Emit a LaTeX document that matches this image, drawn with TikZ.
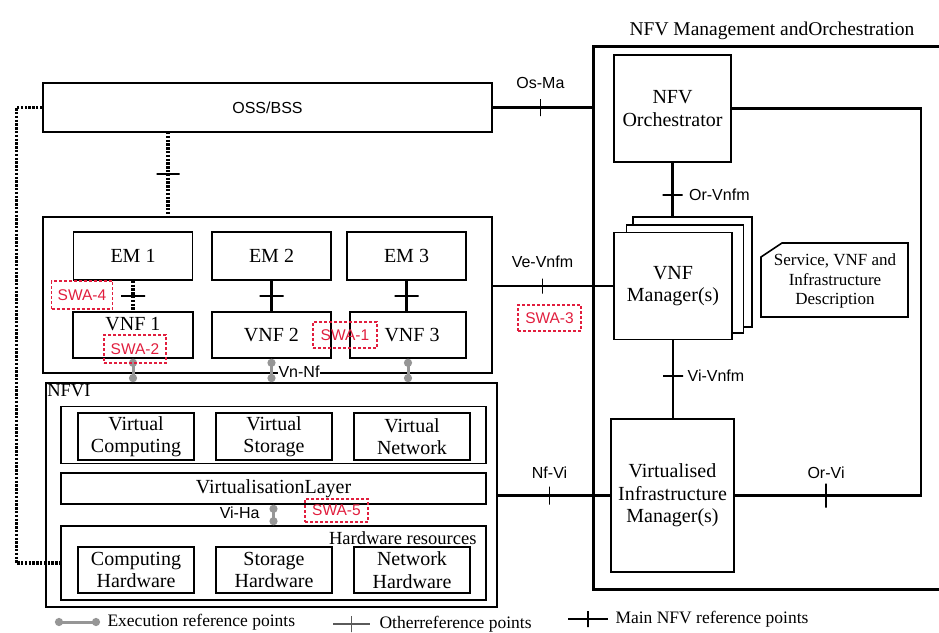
\documentclass[tikz,border=0pt]{standalone}
\usepackage{fontspec}
\setmainfont{Liberation Serif}
\setsansfont{Liberation Sans}
\usetikzlibrary{arrows.meta,positioning}
\definecolor{sw}{RGB}{225,30,62}
\definecolor{eg}{RGB}{150,150,150}

\begin{document}
\begin{tikzpicture}[x=1pt,y=-1pt,>=Latex,
  wh/.style 2 args={minimum width=#1pt,minimum height=#2pt},
  bx/.style={draw,line width=1.6pt,inner sep=1pt,align=center,font=\fontsize{20}{22.5}\selectfont},
  grp/.style={draw,line width=2.6pt,inner sep=0pt},
  sf/.style={font=\sffamily\fontsize{16}{18}\selectfont},
  tx/.style={font=\fontsize{18.5}{20}\selectfont},
  lg/.style={font=\fontsize{17.5}{20}\selectfont},
  mn/.style={line width=2.6pt},
  ot/.style={line width=3.2pt,dash pattern=on 2.4pt off 1.4pt},
  tv/.style={draw,solid,line width=1.6pt,inner sep=0pt,outer sep=0pt,minimum width=0pt,minimum height=#1pt},
  tv/.default=18,
  th/.style={draw,solid,line width=1.8pt,inner sep=0pt,outer sep=0pt,minimum height=0pt,minimum width=#1pt},
  th/.default=20,
  ex/.style={draw=eg,line width=3pt,{Circle[length=8pt]}-{Circle[length=8pt]}},
  swa/.style={draw=sw,text=sw,line width=1.2pt,dash pattern=on 3pt off 2pt,inner sep=0pt,font=\sffamily\fontsize{15.5}{17}\selectfont}]
\useasboundingbox (0,0) rectangle (939,632);
\node[grp,wh={360}{543},anchor=north west] (mano) at (592,45) {};
\node[font=\fontsize{19.5}{22}\selectfont] (manot) at (772,31) {NFV Management andOrchestration};
\node[bx,wh={117}{107}] (orch) at (672.5,108.5) {NFV\\Orchestrator};
\node[bx,wh={119}{110},fill=white] (vnfmc) at (692.5,272) {};
\node[bx,wh={117}{108},fill=white] (vnfmb) at (685,279) {};
\node[bx,wh={118}{107},fill=white] (vnfm) at (673,286) {VNF\\Manager(s)};
\draw[line width=1.6pt] (761,257) -- (782,243) -- (908,243) -- (908,317) -- (761,317) -- cycle;
\node[align=center,font=\fontsize{17}{19.5}\selectfont] (desc) at (835,281) {Service, VNF and\\Infrastructure\\Description};
\node[bx,wh={123}{153}] (vim) at (672.5,495.5) {Virtualised\\Infrastructure\\Manager(s)};
\node[bx,wh={449}{49},sf] (oss) at (267.5,107.5) {OSS/BSS};
\node[grp,wh={449}{156}] (dom) at (267.5,295) {};
\foreach \i/\x in {1/133,2/271.5,3/406.5}
  \node[bx,wh={119}{48}] (em\i) at (\x,256) {EM \i};
\node[bx,wh={120}{46}] (vnf1) at (133,335) {};
\node[font=\fontsize{20}{22}\selectfont] (vnf1t) at (133,324) {VNF 1};
\node[bx,wh={119}{46}] (vnf2) at (271.5,335) {VNF 2};
\node[bx,wh={116}{46}] (vnf3) at (408,335) {\hspace{8pt}VNF 3};
\node[draw,line width=1.8pt,wh={451}{224}] (nfvi) at (271.5,495) {};
\node[tx,anchor=north west,inner sep=2pt] (nfvit) at (nfvi.north west) {NFVI};
\node[draw,line width=1.8pt,wh={425}{57}] (vres) at (273.5,435) {};
\foreach \n/\x/\t in {vcomp/136/Computing,vstor/274/Storage,vnet/412/Network}
  \node[bx,wh={116}{47}] (\n) at (\x,436.5) {Virtual\\\t};
\node[bx,wh={425}{31}] (vlay) at (273.5,488.5) {VirtualisationLayer};
\node[bx,wh={425}{74}] (hw) at (273.5,563) {};
\node[tx,anchor=east] (hwt) at (480,538) {Hardware resources};
\foreach \n/\x/\t in {chw/136/Computing,shw/274/Storage,nhw/412/Network}
  \node[bx,wh={116}{46}] (\n) at (\x,570) {\t\\Hardware};
\draw[ot] (oss.west) -- ++(-26,0) |- (hw.west);
\coordinate (ob) at (168,132);
\draw[ot] (ob) -- (ob |- dom.north) node[midway,th=23]{};
\draw[ot] (em1.south) -- (em1.south |- vnf1.north) node[midway,th=24]{};
\draw[mn] (em2.south) -- (em2.south |- vnf2.north) node[midway,th=24]{};
\draw[mn] (em3.south) -- (em3.south |- vnf3.north) node[midway,th=24]{};
\foreach \i in {1,2,3} \draw[ex] (vnf\i.south) -- (vnf\i.south |- nfvi.north);
\draw[ex] (vlay.south) -- (hw.north);
\node[sf,fill=white,inner sep=1pt] (vnnf) at (299,372) {Vn-Nf};
\node[sf,anchor=east] (viha) at (263,513) {Vi-Ha};
\node[swa,wh={61}{28}] (swa4) at (82,295) {SWA-4};
\node[swa,wh={62}{28}] (swa2) at (135,349) {SWA-2};
\node[swa,wh={64}{26}] (swa1) at (345,335) {SWA-1};
\node[swa,wh={63}{26}] (swa3) at (549.5,318) {SWA-3};
\node[swa,wh={63}{23}] (swa5) at (336.5,510.5) {SWA-5};
\draw[mn] (oss.east) -- (oss.east -| mano.west) node[pos=.48,tv=17,label={[sf,label distance=6pt]above:Os-Ma}]{};
\draw[mn] (orch.south) -- (orch.south |- vnfmc.north) node[pos=.6,th=20,label={[sf,label distance=2pt]right:Or-Vnfm}]{};
\draw[mn] (vnfm.south) -- (vnfm.south |- vim.north) node[pos=.46,th=20,label={[sf]right:Vi-Vnfm}]{};
\draw[mn] (dom.east |- vnfm.west) -- (vnfm.west) node[pos=.41,tv=15,label={[sf,label distance=6pt]above:Ve-Vnfm}]{};
\draw[mn] (nfvi.east |- vim.west) -- (vim.west) node[pos=.46,tv=18,label={[sf,label distance=3pt]above:Nf-Vi}]{};
\coordinate (oc) at (921,108.5);
\draw[mn] (orch.east) -- (oc) -- (oc |- vim.east) -- (vim.east) node[pos=.51,tv=24,label={[sf]above:Or-Vi}]{};
\coordinate (l1a) at (55,622); \coordinate (l1b) at (100,622);
\draw[ex] (l1a) -- (l1b);
\node[lg,right=4pt of l1b] (l1) {Execution reference points};
\coordinate (l2a) at (333,624); \coordinate (l2b) at (370,624);
\draw[line width=1.4pt,eg!60!black] (l2a) -- (l2b) node[midway,tv=16]{};
\node[lg,right=6pt of l2b] (l2) {Otherreference points};
\coordinate (l3a) at (568,619); \coordinate (l3b) at (608,619);
\draw[line width=1.6pt] (l3a) -- (l3b) node[midway,tv=16]{};
\node[lg,right=4pt of l3b] (l3) {Main NFV reference points};
\end{tikzpicture}
\end{document}
